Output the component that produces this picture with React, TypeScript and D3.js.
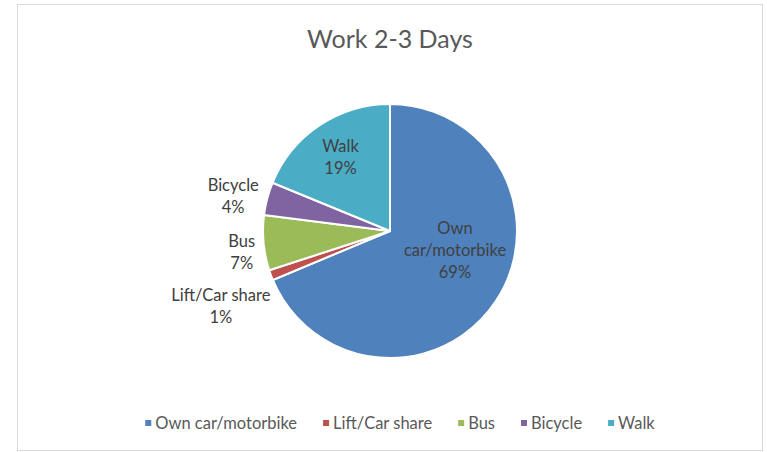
import React, { useEffect, useRef } from 'react'
import * as d3 from 'd3'

// chart data
const categories = ['Own car/motorbike', 'Lift/Car share', 'Bus', 'Bicycle', 'Walk']
const shares = [68.7, 1.3, 7.0, 4.2, 18.8]
const colors = ['#4F81BD', '#C0504D', '#9BBB59', '#8064A2', '#4BACC6']
const title = 'Work 2-3 Days'

// label text lines shown on the pie (wrapped like the original)
const labelLines: Record<string, string[]> = {
  'Own car/motorbike': ['Own', 'car/motorbike'],
  'Lift/Car share': ['Lift/Car share'],
  Bus: ['Bus'],
  Bicycle: ['Bicycle'],
  Walk: ['Walk'],
}
const insideLabels = ['Own car/motorbike', 'Walk']

const W = 767
const H = 452
const FONT = 'Lato, "Noto Sans", sans-serif'

const App = () => {
  const ref = useRef<SVGSVGElement>(null)

  useEffect(() => {
    const svg = d3.select(ref.current)
    svg.selectAll('*').remove()

    svg.append('rect')
      .attr('x', 17.5).attr('y', 4.5)
      .attr('width', 745).attr('height', 446)
      .attr('fill', '#fff')
      .attr('stroke', '#d9d9d9')

    svg.append('text')
      .attr('x', 390).attr('y', 48)
      .attr('text-anchor', 'middle')
      .attr('font-family', FONT)
      .attr('font-size', 25)
      .attr('fill', '#595959')
      .text(title)

    const r = 127
    const cx = 390
    const cy = 231

    const data = categories.map((c, i) => ({ name: c, value: shares[i], color: colors[i] }))
    const pie = d3.pie<any>().sort(null).value((d) => d.value)
    const arcs = pie(data)

    const arc = d3.arc<any>().innerRadius(0).outerRadius(r)
    const innerLabelArc = d3.arc<any>().innerRadius(r * 0.7).outerRadius(r * 0.7)
    const outerLabelArc = d3.arc<any>().innerRadius(r + 30).outerRadius(r + 30)

    // small nudges, Excel's best-fit placement
    const nudge: Record<string, [number, number]> = {
      'Own car/motorbike': [-9, -30],
      'Lift/Car share': [-22, 21],
      Bus: [8, 6],
      Bicycle: [-5, 5],
      Walk: [0, 0],
    }

    const g = svg.append('g').attr('transform', `translate(${cx},${cy})`)

    g.selectAll('path')
      .data(arcs)
      .join('path')
      .attr('d', arc)
      .attr('fill', (d) => d.data.color)
      .attr('stroke', '#fff')
      .attr('stroke-width', 2)
      .attr('stroke-linejoin', 'round')

    arcs.forEach((a) => {
      const name = a.data.name
      const inside = insideLabels.includes(name)
      const [x0, y0] = inside ? innerLabelArc.centroid(a) : outerLabelArc.centroid(a)
      const [dx, dy] = nudge[name]
      const lines = [...labelLines[name], Math.round(a.data.value) + '%']
      const lh = 22
      const t = g.append('text')
        .attr('text-anchor', 'middle')
        .attr('font-family', FONT)
        .attr('font-size', 16.5)
        .attr('fill', '#404040')
      lines.forEach((ln, i) => {
        t.append('tspan')
          .attr('x', x0 + dx)
          .attr('y', y0 + dy + (i - (lines.length - 1) / 2) * lh)
          .attr('dy', '0.35em')
          .text(ln)
      })
    })

    // legend, centred under the chart
    const lg = svg.append('g')
    const items = lg.selectAll('g.item')
      .data(data)
      .join('g')
      .attr('class', 'item')
    items.append('rect')
      .attr('width', 6).attr('height', 6)
      .attr('y', -3)
      .attr('fill', (d) => d.color)
    items.append('text')
      .attr('x', 10)
      .attr('dy', '0.35em')
      .attr('font-family', FONT)
      .attr('font-size', 16.5)
      .attr('fill', '#595959')
      .text((d) => d.name)

    let x = 0
    items.each(function () {
      const el = this as SVGGElement
      const w = (d3.select(el).select('text').node() as SVGTextElement).getComputedTextLength()
      d3.select(el).attr('transform', `translate(${x},0)`)
      x += 10 + w + 26
    })
    const total = x - 26
    lg.attr('transform', `translate(${400 - total / 2},423)`)
  }, [])

  return (
    <div style={{ position: 'fixed', left: 0, top: 0 }}>
      <svg ref={ref} width={W} height={H} style={{ display: 'block', background: '#fff' }}></svg>
    </div>
  )
}

export default App
